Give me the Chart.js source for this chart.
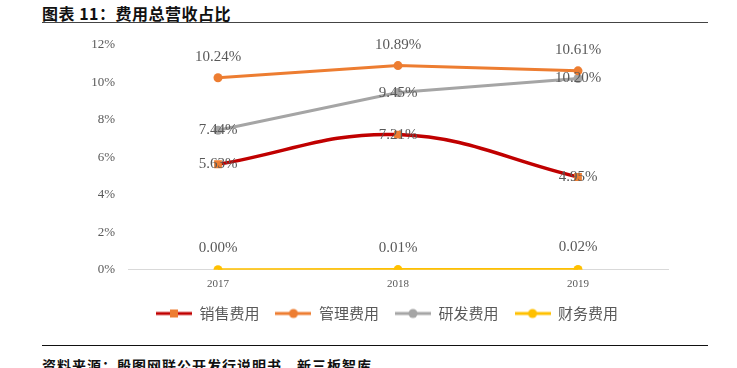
<!DOCTYPE html>
<html>
<head>
<meta charset="utf-8">
<script src="https://cdn.jsdelivr.net/npm/chart.js@4/dist/chart.umd.min.js"></script>
<style>
  html, body { margin: 0; padding: 0; background: #fff; }
  body { width: 737px; height: 368px; position: relative; overflow: hidden; }
  #title { position: absolute; left: 42px; top: 1px; font: bold 16px "Noto Sans CJK SC", sans-serif; letter-spacing: 0.5px; color: #111; }
  .rule { position: absolute; left: 42px; width: 666px; height: 1px; background: #444; }
  #source { position: absolute; left: 42px; top: 355px; font: bold 14px "Noto Sans CJK SC", sans-serif; letter-spacing: 1px; color: #111; }
  #wrap { position: absolute; left: 0; top: 24px; width: 737px; height: 316px; }
</style>
</head>
<body>
<div id="title">图表 11：费用总营收占比</div>
<div class="rule" style="top:22px"></div>
<div id="wrap"><canvas id="chart"></canvas></div>
<div class="rule" style="top:345px; background:#111"></div>
<div id="source">资料来源：殷图网联公开发行说明书，新三板智库</div>
<script>
const years = ['2017', '2018', '2019'];
const salesCost = [5.63, 7.21, 4.95];
const adminCost = [10.24, 10.89, 10.61];
const rdCost = [7.44, 9.45, 10.20];
const financeCost = [0.00, 0.01, 0.02];
const yTicks = [0, 2, 4, 6, 8, 10, 12];

const RED = '#C00000';
const ORANGE = '#ED7D31';
const GRAY = '#A5A5A5';
const YELLOW = '#FFC000';
const TEXT = '#595959';

function legendIcon(lineColor, markColor, square) {
  const c = document.createElement('canvas');
  c.width = 36;
  c.height = 12;
  const ctx = c.getContext('2d');
  ctx.strokeStyle = lineColor;
  ctx.lineWidth = 3;
  ctx.beginPath();
  ctx.moveTo(0, 6);
  ctx.lineTo(36, 6);
  ctx.stroke();
  ctx.fillStyle = markColor;
  if (square) {
    ctx.fillRect(14, 2, 8, 8);
  } else {
    ctx.beginPath();
    ctx.arc(18, 6, 4.5, 0, Math.PI * 2);
    ctx.fill();
  }
  return c;
}

// draws the percentage labels on each point
const valueLabels = {
  id: 'valueLabels',
  afterDatasetsDraw(chart) {
    const ctx = chart.ctx;
    ctx.save();
    ctx.font = '15px "Liberation Serif", serif';
    ctx.fillStyle = TEXT;
    ctx.textAlign = 'center';
    ctx.textBaseline = 'middle';
    chart.data.datasets.forEach((ds, i) => {
      const meta = chart.getDatasetMeta(i);
      meta.data.forEach((pt, j) => {
        ctx.fillText(ds.data[j].toFixed(2) + '%', pt.x, pt.y + (ds.labelDy || 0));
      });
    });
    ctx.restore();
  }
};

// legend sits centred under the plot area and a bit closer to the axis
const legendShift = {
  id: 'legendShift',
  afterLayout(chart) {
    const lg = chart.legend;
    lg.left += 53;
    lg.right += 53;
    lg.top -= 9;
    lg.bottom -= 9;
  }
};

new Chart(document.getElementById('chart'), {
  type: 'line',
  data: {
    labels: years,
    datasets: [
      {
        label: '销售费用', data: salesCost, borderColor: RED, borderWidth: 3.5,
        tension: 0.4, pointStyle: 'rect', pointRadius: 5.5, pointBackgroundColor: ORANGE,
        pointBorderWidth: 0, labelDy: 0, icon: legendIcon(RED, ORANGE, true)
      },
      {
        label: '管理费用', data: adminCost, borderColor: ORANGE, borderWidth: 3,
        tension: 0, pointRadius: 4.5, pointBackgroundColor: ORANGE,
        pointBorderWidth: 0, labelDy: -21, icon: legendIcon(ORANGE, ORANGE, false)
      },
      {
        label: '研发费用', data: rdCost, borderColor: GRAY, borderWidth: 3,
        tension: 0, pointRadius: 4.5, pointBackgroundColor: GRAY,
        pointBorderWidth: 0, labelDy: 0, icon: legendIcon(GRAY, GRAY, false)
      },
      {
        label: '财务费用', data: financeCost, borderColor: YELLOW, borderWidth: 3,
        tension: 0, pointRadius: 4.5, pointBackgroundColor: YELLOW,
        pointBorderWidth: 0, labelDy: -22, icon: legendIcon(YELLOW, YELLOW, false)
      }
    ]
  },
  options: {
    responsive: true,
    maintainAspectRatio: false,
    animation: false,
    layout: { padding: { left: 0, right: 69, top: 10, bottom: 0 } },
    scales: {
      x: {
        offset: true,
        grid: { display: false, drawTicks: false },
        border: { display: true, color: '#D9D9D9', width: 1 },
        ticks: { color: TEXT, font: { family: 'Liberation Serif', size: 11 }, padding: 8 }
      },
      y: {
        min: 0,
        max: 12,
        afterBuildTicks: (s) => { s.ticks = yTicks.map((v) => ({ value: v })); },
        afterFit: (s) => { s.width = 128; },
        grid: { display: false, drawTicks: false },
        border: { display: false },
        ticks: {
          color: TEXT, padding: 13,
          font: { family: 'Liberation Serif', size: 13 },
          callback: (v) => v + '%'
        }
      }
    },
    plugins: {
      tooltip: { enabled: false },
      legend: {
        position: 'bottom',
        labels: {
          usePointStyle: true,
          pointStyleWidth: 36,
          padding: 16,
          color: TEXT,
          font: { family: '"Noto Sans CJK SC"', size: 15 },
          generateLabels: (chart) => chart.data.datasets.map((ds, i) => ({
            text: ds.label,
            pointStyle: ds.icon,
            fontColor: TEXT,
            lineWidth: 0,
            strokeStyle: 'transparent',
            fillStyle: 'transparent',
            datasetIndex: i
          }))
        }
      }
    }
  },
  plugins: [valueLabels, legendShift]
});
</script>
</body>
</html>
